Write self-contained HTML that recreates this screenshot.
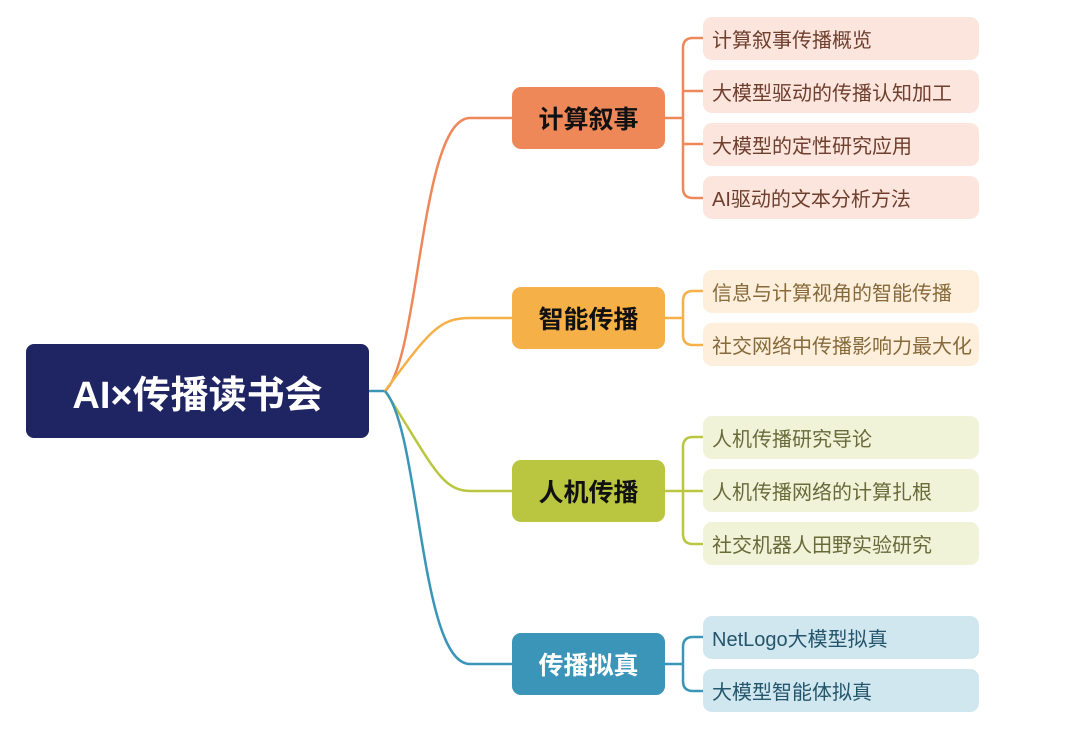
<!DOCTYPE html>
<html><head><meta charset="utf-8"><style>
body{margin:0;width:1080px;height:745px;background:#fff;overflow:hidden;position:relative;font-family:"Liberation Sans","Noto Sans CJK SC",sans-serif}
.n{position:absolute;box-sizing:border-box;display:flex;align-items:center}
.root{left:26px;top:344px;width:343px;height:94px;background:#1f2562;border-radius:8px;color:#fff;font-size:38px;justify-content:center;font-weight:bold}
.m{left:512px;width:153px;height:62px;border-radius:9px;font-size:25px;justify-content:center;font-weight:bold;color:#111}
.l{left:703px;width:276px;height:43px;border-radius:9px;font-size:20px;padding-left:9px}
.o{background:#fce5dc;color:#6e3e2e}.y{background:#fdefdb;color:#866a3c}.g{background:#f0f3d8;color:#676b3a}.b{background:#d0e7ef;color:#24556b}
svg{position:absolute;left:0;top:0}
</style></head><body>
<svg width="1080" height="745" fill="none" stroke-width="2.5">
<path d="M369 391 H385" stroke="#3a95b9"/>
<path d="M385 391 C420 360,420 118,470 118 H512" stroke="#ef8859"/>
<path d="M385 391 C430 330,440 318,470 318 H512" stroke="#f5b047"/>
<path d="M385 391 C430 460,440 491,470 491 H512" stroke="#bac640"/>
<path d="M385 391 C420 430,420 664,470 664 H512" stroke="#3a95b9"/>
<g stroke="#ef8859"><path d="M665 118 H683"/><path d="M703 38 H693 Q683 38 683 48 V188 Q683 198 693 198 H703"/><path d="M683 91 Q683 91 703 91"/><path d="M683 144 H703"/></g>
<g stroke="#f5b047"><path d="M665 318 H683"/><path d="M703 291 H693 Q683 291 683 301 V335 Q683 345 693 345 H703"/></g>
<g stroke="#bac640"><path d="M665 491 H703"/><path d="M703 437 H693 Q683 437 683 447 V534 Q683 544 693 544 H703"/></g>
<g stroke="#3a95b9"><path d="M665 664 H683"/><path d="M703 637 H693 Q683 637 683 647 V681 Q683 691 693 691 H703"/></g>
</svg>
<div class="n root">AI×传播读书会</div>
<div class="n m" style="top:87px;background:#ef8859">计算叙事</div>
<div class="n m" style="top:287px;background:#f5b047">智能传播</div>
<div class="n m" style="top:460px;background:#bac640">人机传播</div>
<div class="n m" style="top:633px;background:#3a95b9;color:#fff">传播拟真</div>
<div class="n l o" style="top:17px">计算叙事传播概览</div>
<div class="n l o" style="top:70px">大模型驱动的传播认知加工</div>
<div class="n l o" style="top:123px">大模型的定性研究应用</div>
<div class="n l o" style="top:176px">AI驱动的文本分析方法</div>
<div class="n l y" style="top:270px">信息与计算视角的智能传播</div>
<div class="n l y" style="top:323px">社交网络中传播影响力最大化</div>
<div class="n l g" style="top:416px">人机传播研究导论</div>
<div class="n l g" style="top:469px">人机传播网络的计算扎根</div>
<div class="n l g" style="top:522px">社交机器人田野实验研究</div>
<div class="n l b" style="top:616px">NetLogo大模型拟真</div>
<div class="n l b" style="top:669px">大模型智能体拟真</div>
</body></html>
